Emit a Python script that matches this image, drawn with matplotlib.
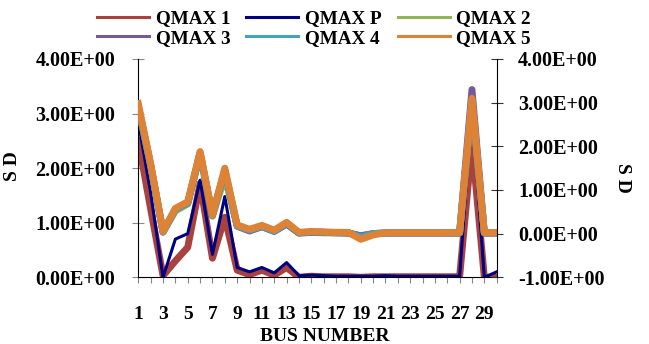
import matplotlib
matplotlib.use("Agg")
import matplotlib.pyplot as plt
from matplotlib.lines import Line2D

plt.rcParams['font.family'] = ['Liberation Serif', 'DejaVu Serif']
plt.rcParams['font.weight'] = 'bold'

# bus numbers 1..30
bus = list(range(1, 31))

# left axis series
qmax_1 = [2.50, 1.25, 0.03, 0.30, 0.55, 1.72, 0.35, 1.10, 0.13, 0.05,
          0.13, 0.04, 0.18, 0.00, 0.02, 0.01, 0.01, 0.01, 0.00, 0.01,
          0.01, 0.01, 0.01, 0.01, 0.01, 0.01, 0.01, 2.45, 0.00, 0.00]
qmax_p = [2.85, 1.55, 0.00, 0.70, 0.80, 1.78, 0.42, 1.48, 0.18, 0.10,
          0.18, 0.08, 0.27, 0.03, 0.04, 0.03, 0.02, 0.02, 0.02, 0.02,
          0.03, 0.02, 0.02, 0.02, 0.02, 0.02, 0.02, 3.15, 0.00, 0.10]

# right axis series
qmax_2 = [2.90, 1.55, 0.03, 0.52, 0.68, 1.80, 0.40, 1.30, 0.18, 0.08,
          0.16, 0.06, 0.23, 0.02, 0.03, 0.03, 0.02, 0.02, -0.05, 0.00,
          0.02, 0.02, 0.02, 0.02, 0.02, 0.02, 0.02, 3.05, 0.02, 0.02]
qmax_3 = [2.90, 1.57, 0.04, 0.56, 0.70, 1.85, 0.42, 1.45, 0.17, 0.06,
          0.16, 0.05, 0.22, 0.01, 0.03, 0.02, 0.02, 0.01, -0.05, 0.00,
          0.01, 0.01, 0.01, 0.01, 0.01, 0.01, 0.01, 3.30, 0.01, 0.01]
qmax_4 = [2.92, 1.58, 0.04, 0.55, 0.70, 1.85, 0.42, 1.45, 0.18, 0.08,
          0.17, 0.06, 0.24, 0.02, 0.04, 0.03, 0.02, 0.02, -0.08, 0.00,
          0.02, 0.02, 0.02, 0.02, 0.02, 0.02, 0.02, 3.05, 0.02, 0.02]
qmax_5 = [2.98, 1.60, 0.05, 0.58, 0.73, 1.88, 0.43, 1.50, 0.20, 0.10,
          0.19, 0.08, 0.26, 0.03, 0.05, 0.04, 0.03, 0.03, -0.13, -0.03,
          0.02, 0.02, 0.02, 0.02, 0.02, 0.02, 0.02, 3.10, 0.02, 0.02]

left_ticks = [0, 1, 2, 3, 4]
right_ticks = [-1, 0, 1, 2, 3, 4]

c_red = '#A8423F'
c_blue = '#000080'
c_green = '#92B458'
c_purple = '#75599A'
c_teal = '#46A2BB'
c_orange = '#DE8235'

fig = plt.figure(figsize=(6.49, 3.44), dpi=100)
ax = fig.add_axes([0.2131, 0.1939, 0.5522, 0.6346])
ax2 = ax.twinx()

ax.plot(bus, qmax_1, color=c_red, lw=5)
ax.plot(bus, qmax_p, color=c_blue, lw=2.2)
ax2.plot(bus, qmax_2, color=c_green, lw=5)
ax2.plot(bus, qmax_3, color=c_purple, lw=5)
ax2.plot(bus, qmax_4, color=c_teal, lw=5)
ax2.plot(bus, qmax_5, color=c_orange, lw=5)

ax.set_xlim(1, 30)
ax.set_ylim(0, 4)
ax2.set_ylim(-1, 4)

ax.set_yticks(left_ticks)
ax.set_yticklabels([f"{v:.2f}E+00" for v in left_ticks])
ax2.set_yticks(right_ticks)
ax2.set_yticklabels([f"{v:.2f}E+00" for v in right_ticks])
ax.set_xticks(bus)
ax.set_xticklabels([str(b) if b % 2 == 1 else '' for b in bus])

for a in (ax, ax2):
    a.spines['top'].set_visible(False)
ax.spines['right'].set_visible(False)
ax2.spines['left'].set_visible(False)
ax2.spines['bottom'].set_visible(False)

ax.tick_params(axis='y', direction='inout', length=8, color='#888888',
               labelsize=14.5, pad=12.5)
ax2.tick_params(axis='y', direction='inout', length=9, color='#333333',
                labelsize=14.5, pad=11)
ax.tick_params(axis='x', direction='out', length=4, color='#888888',
               labelsize=14, pad=17)

ax.set_xlabel('BUS NUMBER', fontsize=14, fontweight='bold')
ax.xaxis.set_label_coords(0.52, -0.27)
ax.xaxis.label.set_va('center')
ax.set_ylabel('S D', fontsize=14, fontweight='bold')
ax.yaxis.set_label_coords(-0.35, 0.51)
ax.yaxis.label.set_va('center')
ax2.set_ylabel('S D', fontsize=14, fontweight='bold', rotation=270)
ax2.yaxis.set_label_coords(1.35, 0.457)
ax2.yaxis.label.set_va('center')

names = ['QMAX 1', 'QMAX P', 'QMAX 2', 'QMAX 3', 'QMAX 4', 'QMAX 5']
colors = [c_red, c_blue, c_green, c_purple, c_teal, c_orange]
handles = [Line2D([], [], color=c, lw=2.2) for c in colors]
# matplotlib fills legend columns first, reorder to read row by row
order = [0, 3, 1, 4, 2, 5]
fig.legend([handles[i] for i in order], [names[i] for i in order],
           loc='upper center', bbox_to_anchor=(314 / 649, 1.01), ncol=3,
           frameon=False, fontsize=13.8, handlelength=2.7, handletextpad=0.35,
           columnspacing=0.85, labelspacing=0.12, borderpad=0.2)

fig.savefig('out.png', dpi=100)
